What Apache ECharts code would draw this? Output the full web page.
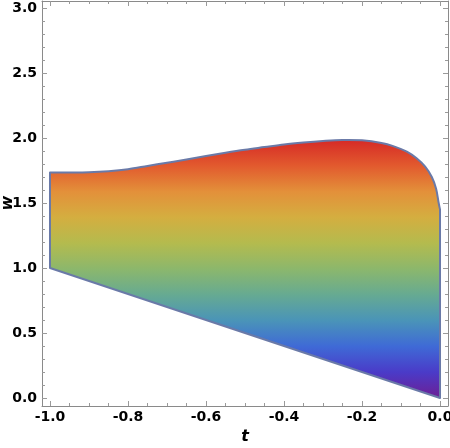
<!DOCTYPE html>
<html>
<head>
<meta charset="utf-8">
<script src="https://cdn.jsdelivr.net/npm/echarts@6/dist/echarts.min.js"></script>
<style>
html,body{margin:0;padding:0;background:#fff;}
#chart{width:450px;height:448px;}
</style>
</head>
<body>
<div id="chart"></div>
<script>
// Upper boundary of the region (t, w)
const tTop = [-1.0, -0.95, -0.9, -0.85, -0.8, -0.75, -0.7, -0.65, -0.6, -0.55, -0.5, -0.45, -0.4, -0.35, -0.3, -0.25, -0.2, -0.15, -0.12, -0.085, -0.06, -0.038, -0.021, -0.01, -0.004, 0.0];
const wTop = [1.735, 1.735, 1.737, 1.745, 1.76, 1.785, 1.81, 1.835, 1.862, 1.887, 1.91, 1.93, 1.95, 1.965, 1.977, 1.985, 1.982, 1.962, 1.938, 1.895, 1.844, 1.78, 1.70, 1.61, 1.51, 1.45];
// Lower boundary (t, w)
const tBottom = [-1.0, 0.0];
const wBottom = [1.0, 0.0];
// Colour scale range of w
const wColorRange = [0.0, 1.985];
// Tick values
const xMajor = [-1.0, -0.8, -0.6, -0.4, -0.2, 0.0];
const xMinor = [-0.95, -0.9, -0.85, -0.75, -0.7, -0.65, -0.55, -0.5, -0.45, -0.35, -0.3, -0.25, -0.15, -0.1, -0.05];
const yMajor = [0.0, 0.5, 1.0, 1.5, 2.0, 2.5, 3.0];
const yMinor = [0.1, 0.2, 0.3, 0.4, 0.6, 0.7, 0.8, 0.9, 1.1, 1.2, 1.3, 1.4, 1.6, 1.7, 1.8, 1.9, 2.1, 2.2, 2.3, 2.4, 2.6, 2.7, 2.8, 2.9];
const xRange = [-1.0205, 0.0205];
const yRange = [-0.0615, 3.054];
const xName = 't';
const yName = 'w';

const frameColor = '#8a8a8a';
const tickColor = '#9a9a9a';
const labelFont = {color: '#000', fontFamily: 'DejaVu Sans', fontWeight: 'bold', fontSize: 14};
const nameFont = {fontFamily: 'DejaVu Sans', fontWeight: 'bold', fontStyle: 'italic', fontSize: 16, color: '#000'};

function fmt(v){ return Number(v).toFixed(1); }

function axisX(gridIndex, position, ticks, len, showLabel, showLine, name){
  return {
    type: 'value', gridIndex: gridIndex, position: position,
    min: xRange[0], max: xRange[1],
    name: name || '', nameLocation: 'middle', nameGap: 19,
    nameTextStyle: nameFont,
    axisLine: {show: showLine, onZero: false, lineStyle: {color: frameColor, width: 1}},
    axisTick: {show: true, inside: true, length: len, customValues: ticks, lineStyle: {color: tickColor, width: 1}},
    axisLabel: showLabel ? Object.assign({show: true, margin: 4, customValues: ticks, formatter: fmt}, labelFont) : {show: false},
    splitLine: {show: false}
  };
}
function axisY(gridIndex, position, ticks, len, showLabel, showLine){
  return {
    type: 'value', gridIndex: gridIndex, position: position,
    min: yRange[0], max: yRange[1],
    axisLine: {show: showLine, onZero: false, lineStyle: {color: frameColor, width: 1}},
    axisTick: {show: true, inside: true, length: len, customValues: ticks, lineStyle: {color: tickColor, width: 1}},
    axisLabel: showLabel ? Object.assign({show: true, margin: 5, customValues: ticks, formatter: fmt}, labelFont) : {show: false},
    splitLine: {show: false}
  };
}

// Catmull-Rom spline through pixel points -> SVG path commands
function splinePath(p){
  let d = '';
  for (let i = 0; i < p.length - 1; i++){
    const p0 = p[Math.max(i - 1, 0)], p1 = p[i], p2 = p[i + 1], p3 = p[Math.min(i + 2, p.length - 1)];
    const c1 = [p1[0] + (p2[0] - p0[0]) / 6, p1[1] + (p2[1] - p0[1]) / 6];
    const c2 = [p2[0] - (p3[0] - p1[0]) / 6, p2[1] - (p3[1] - p1[1]) / 6];
    d += ' C' + c1[0] + ',' + c1[1] + ' ' + c2[0] + ',' + c2[1] + ' ' + p2[0] + ',' + p2[1];
  }
  return d;
}

const gridBox = {left: 42, right: 2, top: 1, bottom: 42, containLabel: false, outerBoundsMode: 'none'};

const chart = echarts.init(document.getElementById('chart'), null, {renderer: 'canvas'});
chart.setOption({
  animation: false,
  backgroundColor: '#fff',
  grid: [Object.assign({}, gridBox), Object.assign({}, gridBox)],
  xAxis: [
    axisX(0, 'bottom', xMajor, 5, true, true, xName),
    axisX(0, 'top', xMajor, 5, false, true),
    axisX(1, 'bottom', xMinor, 3, false, false),
    axisX(1, 'top', xMinor, 3, false, false)
  ],
  yAxis: [
    axisY(0, 'left', yMajor, 5, true, true),
    axisY(0, 'right', yMajor, 5, false, true),
    axisY(1, 'left', yMinor, 3, false, false),
    axisY(1, 'right', yMinor, 3, false, false)
  ],
  graphic: [{
    type: 'text', x: 8, y: 203, rotation: Math.PI / 2,
    style: {text: yName, align: 'center', verticalAlign: 'middle', font: 'italic bold 16px "DejaVu Sans"', fill: '#000'}
  }],
  series: [{
    type: 'custom',
    coordinateSystem: 'cartesian2d',
    xAxisIndex: 0, yAxisIndex: 0,
    clip: false,
    data: [[tTop[0], wTop[0]]],
    renderItem: function(params, api){
      const top = [];
      for (let i = 0; i < tTop.length; i++) top.push(api.coord([tTop[i], wTop[i]]));
      let d = 'M' + top[0][0] + ',' + top[0][1] + splinePath(top);
      for (let i = tBottom.length - 1; i >= 0; i--){
        const q = api.coord([tBottom[i], wBottom[i]]);
        d += ' L' + q[0] + ',' + q[1];
      }
      d += ' Z';
      const y0 = api.coord([0, wColorRange[0]])[1];
      const y1 = api.coord([0, wColorRange[1]])[1];
      const grad = new echarts.graphic.LinearGradient(0, y0, 0, y1, [
        {offset: 0.00, color: '#6d1f95'},
        {offset: 0.10, color: '#4a3bc8'},
        {offset: 0.20, color: '#3f6ad6'},
        {offset: 0.30, color: '#4a94b8'},
        {offset: 0.40, color: '#66aa92'},
        {offset: 0.50, color: '#8cb76c'},
        {offset: 0.60, color: '#b4bb4e'},
        {offset: 0.70, color: '#d4ae40'},
        {offset: 0.80, color: '#e3903a'},
        {offset: 0.90, color: '#e25a2e'},
        {offset: 1.00, color: '#d62a26'}
      ], true);
      return {
        type: 'path',
        shape: {pathData: d},
        style: {fill: grad, stroke: '#6a7aa8', lineWidth: 2, lineJoin: 'round'}
      };
    }
  }]
});
</script>
</body>
</html>
